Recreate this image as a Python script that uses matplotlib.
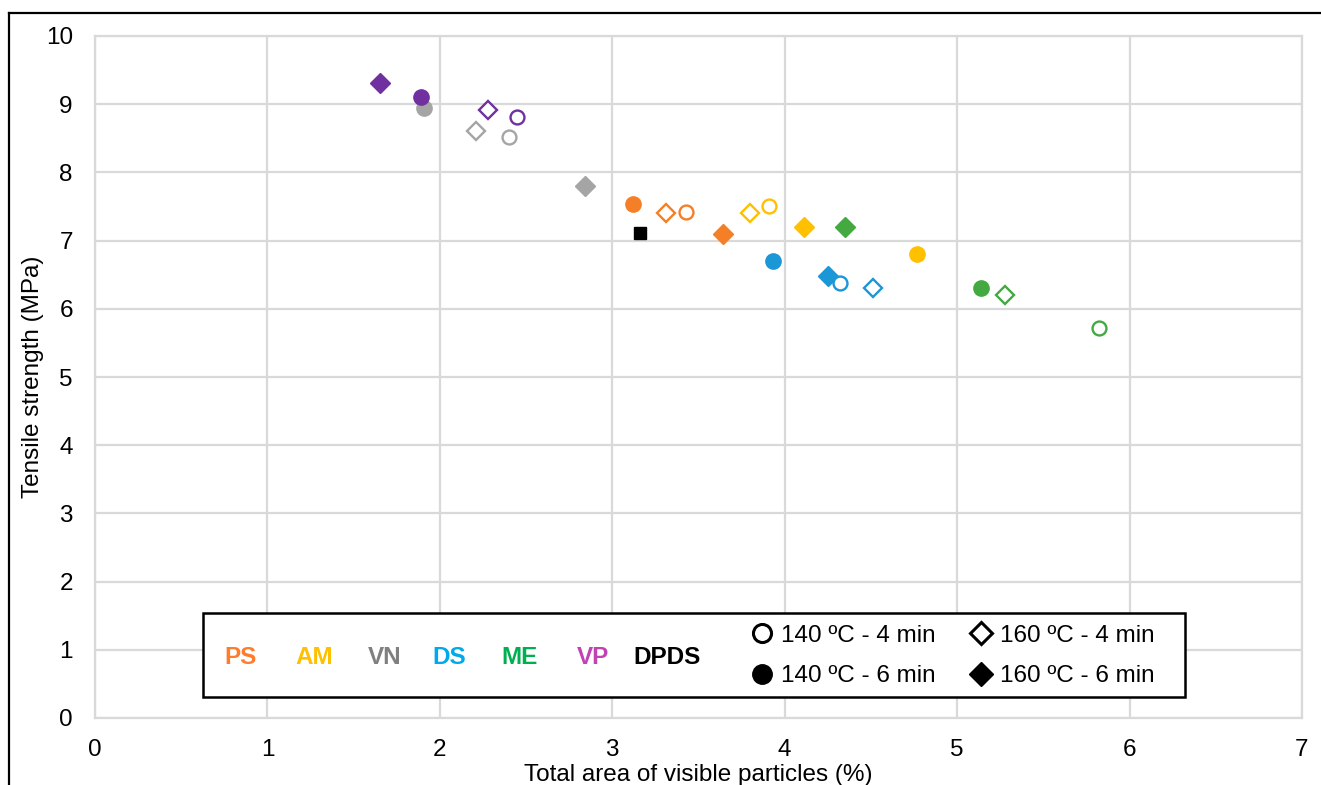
import matplotlib
matplotlib.use("Agg")
import matplotlib.pyplot as plt
from matplotlib.lines import Line2D
from matplotlib.patches import Rectangle

plt.rcParams["font.family"] = ["Liberation Sans", "DejaVu Sans"]

# Groups and their colours (markers / legend text)
groups = ["PS", "AM", "VN", "DS", "ME", "VP"]
marker_colors = ["#F57F26", "#FFC000", "#A5A5A5", "#1B96D6", "#43A940", "#7030A0"]
label_colors = ["#FF7C2B", "#FFC000", "#808080", "#00A8EC", "#00B050", "#C043B4"]

# 140 ºC - 4 min
x_140_4 = [3.43, 3.91, 2.40, 4.32, 5.82, 2.45]
y_140_4 = [7.42, 7.51, 8.52, 6.38, 5.72, 8.81]
# 140 ºC - 6 min
x_140_6 = [3.12, 4.77, 1.91, 3.93, 5.14, 1.89]
y_140_6 = [7.54, 6.80, 8.95, 6.70, 6.30, 9.11]
# 160 ºC - 4 min
x_160_4 = [3.31, 3.80, 2.21, 4.51, 5.28, 2.28]
y_160_4 = [7.41, 7.40, 8.61, 6.30, 6.20, 8.91]
# 160 ºC - 6 min
x_160_6 = [3.64, 4.11, 2.84, 4.25, 4.35, 1.65]
y_160_6 = [7.10, 7.20, 7.80, 6.48, 7.20, 9.31]
# reference sample
dpds_x = [3.16]
dpds_y = [7.11]

condition_labels = ["140 ºC - 4 min", "140 ºC - 6 min", "160 ºC - 4 min", "160 ºC - 6 min"]

fig = plt.figure(figsize=(13.21, 7.85), dpi=100)
ax = fig.add_axes([95 / 1321, 1 - 718 / 785, 1207 / 1321, 682 / 785])

grid_c = "#D9D9D9"
fs = 17.5
ms = 11
mew = 1.7
for i, g in enumerate(groups):
    c = marker_colors[i]
    ax.plot(x_160_6[i], y_160_6[i], "D", ms=ms - 1, color=c, mec=c, zorder=3)
    ax.plot(x_160_4[i], y_160_4[i], "D", ms=ms - 2, mfc="white", mec=c, mew=mew, zorder=3)
    ax.plot(x_140_4[i], y_140_4[i], "o", ms=ms - 1, mfc="white", mec=c, mew=mew, zorder=3)
for i, g in enumerate(groups):
    c = marker_colors[i]
    ax.plot(x_140_6[i], y_140_6[i], "o", ms=ms, color=c, zorder=4 if g == "VP" else 3)
ax.plot(dpds_x, dpds_y, "s", ms=ms - 3, color="black", zorder=3)

ax.set_xlim(0, 7)
ax.set_ylim(0, 10)
ax.set_xticks(range(0, 8))
ax.set_yticks(range(0, 11))
ax.grid(True, color=grid_c, lw=1.6)
ax.set_axisbelow(True)
for s in ax.spines.values():
    s.set_color(grid_c)
    s.set_linewidth(1.6)
ax.tick_params(length=0, labelsize=fs, colors="black")
ax.tick_params(axis="x", pad=15)
ax.tick_params(axis="y", pad=16)
ax.set_xlabel("Total area of visible particles (%)", fontsize=fs, labelpad=2)
ax.set_ylabel("Tensile strength (MPa)", fontsize=fs, labelpad=1)

# legend box with coloured group names
box = Rectangle((0.0895, 0.031), 0.8135, 0.123, transform=ax.transAxes,
                fill=True, fc="white", ec="black", lw=1.8, zorder=5)
ax.add_patch(box)
name_x = [241, 314, 385, 449, 520, 593, 667]
names = groups + ["DPDS"]
colors = label_colors + ["black"]
for px, name, c in zip(name_x, names, colors):
    ax.text((px - 95) / 1207, (718 - 657) / 682, name, transform=ax.transAxes,
            ha="center", va="center", fontsize=fs, fontweight="bold", color=c, zorder=6)

handles = [
    Line2D([], [], ls="", marker="o", ms=13, mfc="white", mec="black", mew=2.2),
    Line2D([], [], ls="", marker="o", ms=14, color="black"),
    Line2D([], [], ls="", marker="D", ms=11, mfc="white", mec="black", mew=2.2),
    Line2D([], [], ls="", marker="D", ms=12, color="black"),
]
leg = ax.legend(handles, condition_labels, ncol=2, frameon=False, fontsize=fs,
                loc="center left", bbox_to_anchor=((736 - 95) / 1207, (718 - 656) / 682),
                handletextpad=0.25, columnspacing=1.3, labelspacing=0.75,
                handlelength=1.1, borderpad=0)
leg.set_zorder(7)

# outer frame around the figure
fig.add_artist(Line2D([9 / 1321, 1], [1 - 13 / 785, 1 - 13 / 785], color="black", lw=1.6))
fig.add_artist(Line2D([9 / 1321, 9 / 1321], [0, 1 - 13 / 785], color="black", lw=1.6))

fig.savefig("out.png", dpi=100)
